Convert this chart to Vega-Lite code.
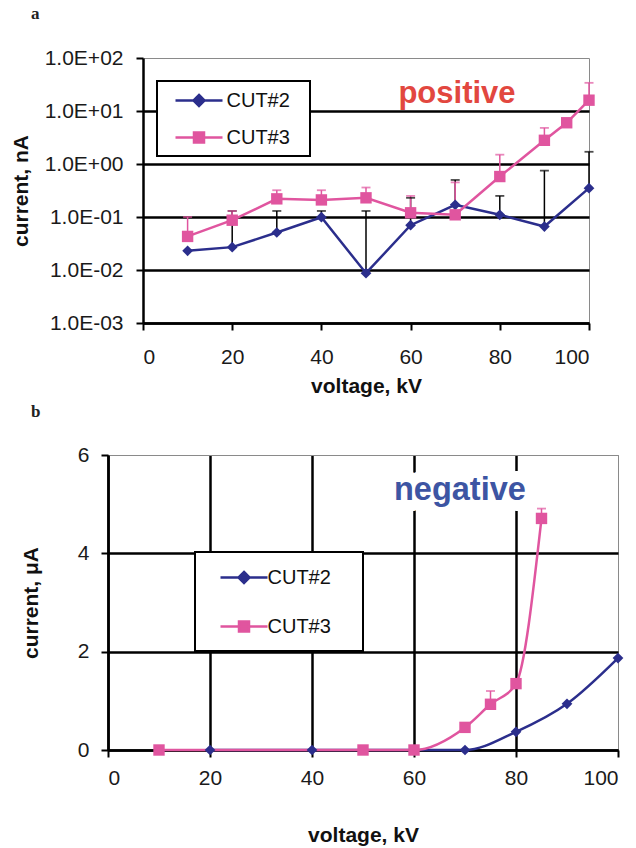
{
  "$schema": "https://vega.github.io/schema/vega-lite/v6.json",
  "background": "white",
  "padding": {"left": 10, "top": 5, "right": 5, "bottom": 0},
  "config": {
    "font": "Liberation Sans",
    "view": {"stroke": "#8a8a8a", "strokeWidth": 1},
    "axis": {
      "labelFont": "Liberation Sans", "labelFontSize": 21, "labelColor": "#1a1a1a",
      "titleFont": "Liberation Sans", "titleFontSize": 21, "titleFontWeight": "bold", "titleColor": "#111111",
      "domainColor": "black", "domainWidth": 2.5, "tickColor": "black", "tickWidth": 2, "tickSize": 7,
      "gridOpacity": 1
    },
    "legend": {"labelFont": "Liberation Sans", "labelFontSize": 20, "labelColor": "#111111"}
  },
  "datasets": {
    "a": [
      {"v": 10, "cur": 0.023, "series": "CUT#2"},
      {"v": 20, "cur": 0.027, "hi": 0.13, "series": "CUT#2"},
      {"v": 30, "cur": 0.051, "hi": 0.13, "series": "CUT#2"},
      {"v": 40, "cur": 0.099, "hi": 0.13, "series": "CUT#2"},
      {"v": 50, "cur": 0.0087, "hi": 0.13, "series": "CUT#2"},
      {"v": 60, "cur": 0.07, "hi": 0.23, "series": "CUT#2"},
      {"v": 70, "cur": 0.17, "hi": 0.5, "series": "CUT#2"},
      {"v": 80, "cur": 0.11, "hi": 0.25, "series": "CUT#2"},
      {"v": 90, "cur": 0.066, "hi": 0.75, "series": "CUT#2"},
      {"v": 100, "cur": 0.35, "hi": 1.7, "series": "CUT#2"},
      {"v": 10, "cur": 0.043, "hi": 0.1, "series": "CUT#3"},
      {"v": 20, "cur": 0.087, "hi": 0.13, "series": "CUT#3"},
      {"v": 30, "cur": 0.22, "hi": 0.32, "series": "CUT#3"},
      {"v": 40, "cur": 0.21, "hi": 0.32, "series": "CUT#3"},
      {"v": 50, "cur": 0.23, "hi": 0.36, "series": "CUT#3"},
      {"v": 60, "cur": 0.12, "hi": 0.25, "series": "CUT#3"},
      {"v": 70, "cur": 0.11, "hi": 0.45, "series": "CUT#3"},
      {"v": 80, "cur": 0.58, "hi": 1.5, "series": "CUT#3"},
      {"v": 90, "cur": 2.8, "hi": 4.8, "series": "CUT#3"},
      {"v": 95, "cur": 6.0, "series": "CUT#3"},
      {"v": 100, "cur": 16, "hi": 34, "series": "CUT#3"}
    ],
    "b": [
      {"v": 20, "cur": 0, "series": "CUT#2"},
      {"v": 40, "cur": 0, "series": "CUT#2"},
      {"v": 60, "cur": 0, "series": "CUT#2"},
      {"v": 70, "cur": 0, "series": "CUT#2"},
      {"v": 80, "cur": 0.37, "series": "CUT#2"},
      {"v": 90, "cur": 0.94, "series": "CUT#2"},
      {"v": 100, "cur": 1.87, "series": "CUT#2"},
      {"v": 10, "cur": 0, "series": "CUT#3"},
      {"v": 50, "cur": 0, "series": "CUT#3"},
      {"v": 60, "cur": 0, "series": "CUT#3"},
      {"v": 70, "cur": 0.46, "series": "CUT#3"},
      {"v": 75, "cur": 0.93, "hi": 1.2, "series": "CUT#3"},
      {"v": 80, "cur": 1.35, "series": "CUT#3"},
      {"v": 85, "cur": 4.71, "hi": 4.91, "series": "CUT#3"}
    ]
  },
  "resolve": {"scale": {"color": "independent"}, "legend": {"color": "independent"}},
  "concat": [
    {
      "title": {"text": "a", "anchor": "start", "frame": "group", "font": "Liberation Serif", "fontSize": 17, "fontWeight": "bold", "color": "#222222", "dx": -77, "offset": 11, "baseline": "alphabetic"},
      "width": 481,
      "height": 265,
      "view": {"stroke": null},
      "data": {"name": "a"},
      "encoding": {
        "x": {"field": "v", "type": "quantitative",
          "scale": {"domain": [0, 100], "range": [35, 481], "nice": false},
          "axis": {"values": [0, 20, 40, 60, 80, 100], "grid": true, "title": "voltage, kV", "labelPadding": 16, "titlePadding": 8,
            "gridColor": {"condition": {"test": "datum.value >= 100", "value": "#8a8a8a"}, "value": "transparent"},
            "gridWidth": 1}},
        "y": {"field": "cur", "type": "quantitative",
          "scale": {"type": "log", "domain": [0.001, 100], "nice": false},
          "axis": {"values": [0.001, 0.01, 0.1, 1, 10, 100], "grid": true, "offset": -35, "title": "current, nA", "labelPadding": 13, "titlePadding": 13,
            "labelExpr": "'1.0E' + (round(log(datum.value)/LN10) >= 0 ? '+' : '-') + '0' + abs(round(log(datum.value)/LN10))",
            "gridColor": {"condition": {"test": "datum.value >= 100", "value": "#8a8a8a"}, "value": "black"},
            "gridWidth": {"condition": {"test": "datum.value >= 100", "value": 1}, "value": 2.5}}}
      },
      "layer": [
        {
          "transform": [{"filter": "isValid(datum.hi)"}],
          "mark": {"type": "rule", "strokeWidth": 1.5},
          "encoding": {
            "y2": {"field": "hi"},
            "color": {"condition": {"test": "datum.series === 'CUT#2'", "value": "black"}, "value": "#E0559F"}
          }
        },
        {
          "transform": [{"filter": "isValid(datum.hi)"}],
          "mark": {"type": "tick", "orient": "horizontal", "size": 9, "thickness": 1.8},
          "encoding": {
            "y": {"field": "hi", "type": "quantitative"},
            "color": {"condition": {"test": "datum.series === 'CUT#2'", "value": "black"}, "value": "#E0559F"}
          }
        },
        {
          "mark": {"type": "line", "strokeWidth": 2.5},
          "encoding": {
            "color": {"field": "series", "type": "nominal",
              "scale": {"domain": ["CUT#2", "CUT#3"], "range": ["#2B2E8C", "#E0559F"]},
              "legend": {
                "orient": "none", "legendX": 49, "legendY": 23,
                "title": "M", "titleOrient": "right", "titleFontSize": 7.5, "titleOpacity": 0, "titlePadding": 5,
                "fillColor": "white", "strokeColor": "black", "padding": 8,
                "symbolType": "M-2.35,0H2.35M0,-0.55L0.55,0L0,0.55L-0.55,0Z",
                "symbolSize": 400, "symbolOffset": 22.5, "labelOffset": 16, "rowPadding": 15,
                "symbolStrokeWidth": 2.5,
                "encode": {
                  "legend": {"update": {"strokeWidth": {"value": 2}}},
                  "symbols": {"update": {
                    "shape": {"signal": "datum.value === 'CUT#2' ? 'M-2.35,0H2.35M0,-0.55L0.55,0L0,0.55L-0.55,0Z' : 'M-2.35,0H2.35M-0.5,-0.5H0.5V0.5H-0.5Z'"},
                    "fill": {"signal": "datum.value === 'CUT#2' ? '#2B2E8C' : '#E0559F'"},
                    "stroke": {"signal": "datum.value === 'CUT#2' ? '#2B2E8C' : '#E0559F'"},
                    "strokeWidth": {"value": 2.5},
                    "opacity": {"value": 1}
                  }}
                }
              }}
          }
        },
        {
          "transform": [{"filter": "datum.series === 'CUT#2'"}],
          "mark": {"type": "point", "shape": "diamond", "filled": true, "opacity": 1, "size": 115, "color": "#2B2E8C"}
        },
        {
          "transform": [{"filter": "datum.series === 'CUT#3'"}],
          "mark": {"type": "point", "shape": "square", "filled": true, "opacity": 1, "size": 130, "color": "#E0559F"}
        },
        {
          "data": {"values": [{"v": 70.4, "cur": 14.2, "label": "positive"}]},
          "mark": {"type": "text", "font": "Liberation Sans", "fontSize": 31, "fontWeight": "bold", "color": "#E2473F", "align": "center", "baseline": "alphabetic"},
          "encoding": {"text": {"field": "label"}}
        }
      ]
    },
    {
      "title": {"text": "b", "anchor": "start", "frame": "group", "font": "Liberation Serif", "fontSize": 17, "fontWeight": "bold", "color": "#222222", "dx": -77, "offset": 10, "baseline": "alphabetic"},
      "width": 510,
      "height": 295,
      "data": {"name": "b"},
      "encoding": {
        "x": {"field": "v", "type": "quantitative",
          "scale": {"domain": [0, 100], "nice": false},
          "axis": {"values": [0, 20, 40, 60, 80, 100], "grid": true, "title": "voltage, kV", "labelPadding": 10, "titlePadding": 36,
            "gridColor": {"condition": {"test": "datum.value >= 100", "value": "#8a8a8a"}, "value": "black"},
            "gridWidth": {"condition": {"test": "datum.value >= 100", "value": 1}, "value": 2.5}}},
        "y": {"field": "cur", "type": "quantitative",
          "scale": {"domain": [0, 6], "nice": false},
          "axis": {"values": [0, 2, 4, 6], "grid": true, "title": "current, μA", "labelPadding": 12, "titlePadding": 36,
            "gridColor": {"condition": {"test": "datum.value >= 6", "value": "#8a8a8a"}, "value": "black"},
            "gridWidth": {"condition": {"test": "datum.value >= 6", "value": 1}, "value": 2.5}}}
      },
      "layer": [
        {
          "transform": [{"filter": "isValid(datum.hi)"}],
          "mark": {"type": "rule", "strokeWidth": 1.5, "color": "#E0559F"},
          "encoding": {"y2": {"field": "hi"}}
        },
        {
          "transform": [{"filter": "isValid(datum.hi)"}],
          "mark": {"type": "tick", "orient": "horizontal", "size": 9, "thickness": 1.8, "color": "#E0559F"},
          "encoding": {"y": {"field": "hi", "type": "quantitative"}}
        },
        {
          "mark": {"type": "line", "strokeWidth": 2.5, "interpolate": "monotone"},
          "encoding": {
            "color": {"field": "series", "type": "nominal",
              "scale": {"domain": ["CUT#2", "CUT#3"], "range": ["#2B2E8C", "#E0559F"]},
              "legend": {
                "orient": "none", "legendX": 87, "legendY": 97,
                "title": "M", "titleOrient": "right", "titleFontSize": 15.5, "titleOpacity": 0, "titlePadding": 5,
                "fillColor": "white", "strokeColor": "black", "padding": 14,
                "symbolType": "M-2.35,0H2.35M0,-0.55L0.55,0L0,0.55L-0.55,0Z",
                "symbolSize": 400, "symbolOffset": 23.5, "labelOffset": 12, "rowPadding": 27,
                "symbolStrokeWidth": 2.5,
                "encode": {
                  "legend": {"update": {"strokeWidth": {"value": 2}}},
                  "symbols": {"update": {
                    "shape": {"signal": "datum.value === 'CUT#2' ? 'M-2.35,0H2.35M0,-0.55L0.55,0L0,0.55L-0.55,0Z' : 'M-2.35,0H2.35M-0.5,-0.5H0.5V0.5H-0.5Z'"},
                    "fill": {"signal": "datum.value === 'CUT#2' ? '#2B2E8C' : '#E0559F'"},
                    "stroke": {"signal": "datum.value === 'CUT#2' ? '#2B2E8C' : '#E0559F'"},
                    "strokeWidth": {"value": 2.5},
                    "opacity": {"value": 1}
                  }}
                }
              }}
          }
        },
        {
          "transform": [{"filter": "datum.series === 'CUT#2'"}],
          "mark": {"type": "point", "shape": "diamond", "filled": true, "opacity": 1, "size": 115, "color": "#2B2E8C"}
        },
        {
          "transform": [{"filter": "datum.series === 'CUT#3'"}],
          "mark": {"type": "point", "shape": "square", "filled": true, "opacity": 1, "size": 130, "color": "#E0559F"}
        },
        {
          "data": {"values": [{"v": 69.0, "cur": 5.08, "label": "negative"}]},
          "mark": {"type": "text", "font": "Liberation Sans", "fontSize": 32.5, "fontWeight": "bold", "color": "white", "stroke": "white", "strokeWidth": 22, "strokeJoin": "round", "align": "center", "baseline": "alphabetic"},
          "encoding": {"text": {"field": "label"}}
        },
        {
          "data": {"values": [{"v": 69.0, "cur": 5.08, "label": "negative"}]},
          "mark": {"type": "text", "font": "Liberation Sans", "fontSize": 32.5, "fontWeight": "bold", "color": "#3D55A3", "align": "center", "baseline": "alphabetic"},
          "encoding": {"text": {"field": "label"}}
        }
      ]
    }
  ],
  "columns": 1,
  "spacing": 6
}
